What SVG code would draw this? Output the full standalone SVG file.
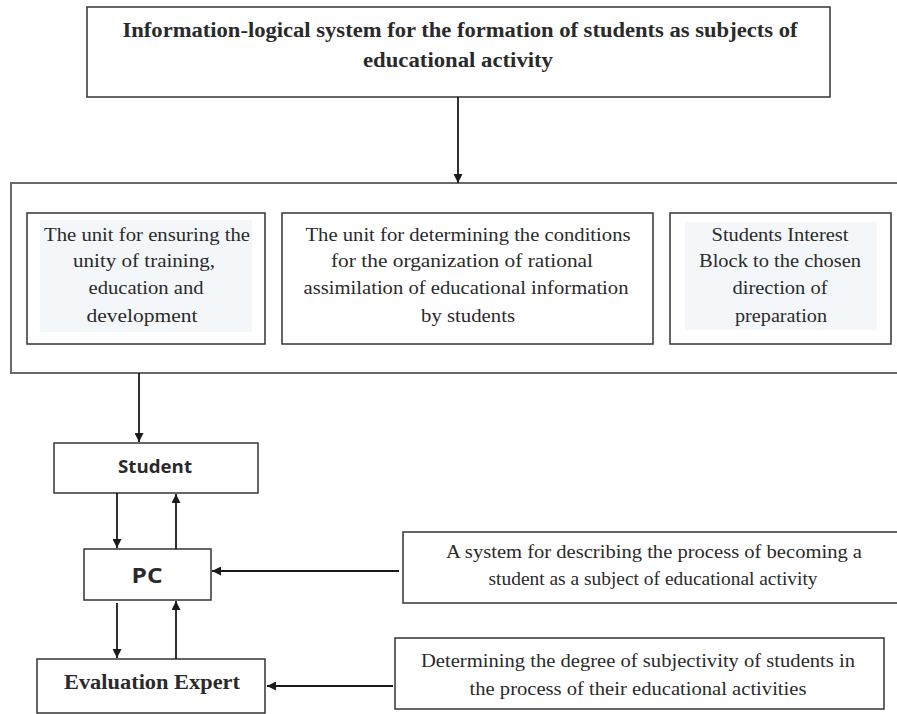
<svg xmlns="http://www.w3.org/2000/svg" width="897" height="714" viewBox="0 0 897 714">
  <defs>
    <marker id="arrow" viewBox="0 0 10 10" refX="10" refY="5" markerWidth="9" markerHeight="9" markerUnits="userSpaceOnUse" orient="auto">
      <path d="M0,0 L10,5 L0,10 Z" fill="#1a1a1a"/>
    </marker>
    <style>
      .box { fill: #ffffff; stroke: #333333; stroke-width: 1.5; }
      .frame { fill: #ffffff; stroke: #6a6a6a; stroke-width: 2; }
      .tint { fill: #f4f7fa; stroke: none; }
      text { lengthAdjust: spacingAndGlyphs; }
      .serif { font-family: "Liberation Serif", "Times New Roman", serif; fill: #2a2a2a; text-anchor: middle; }
      .sans { font-family: "Open Sans", "Liberation Sans", sans-serif; font-weight: bold; fill: #2a2a2a; text-anchor: middle; }
      .title { font-size: 20px; font-weight: bold; }
      .unit { font-size: 18.5px; }
      .note { font-size: 19.5px; }
      .link { stroke: #1a1a1a; stroke-width: 1.8; fill: none; marker-end: url(#arrow); }
    </style>
  </defs>

  <!-- top-level system -->
  <g id="system">
    <rect class="box" x="87" y="7" width="743" height="90"/>
    <text class="serif title" x="460" y="37" textLength="675" lengthAdjust="spacingAndGlyphs">Information-logical system for the formation of students as subjects of</text>
    <text class="serif title" x="458" y="67" textLength="190" lengthAdjust="spacingAndGlyphs">educational activity</text>
  </g>

  <!-- container with the three units -->
  <g id="units">
    <rect class="frame" x="11" y="183" width="892" height="190"/>
  </g>

  <g id="unit-unity">
    <rect class="box" x="27" y="213" width="238" height="131"/>
    <rect class="tint" x="40" y="220" width="212" height="112"/>
    <text class="serif unit" x="147" y="241" textLength="206" lengthAdjust="spacingAndGlyphs">The unit for ensuring the</text>
    <text class="serif unit" x="144" y="267" textLength="142" lengthAdjust="spacingAndGlyphs">unity of training,</text>
    <text class="serif unit" x="146" y="294" textLength="115" lengthAdjust="spacingAndGlyphs">education and</text>
    <text class="serif unit" x="142" y="322" textLength="111" lengthAdjust="spacingAndGlyphs">development</text>
  </g>

  <g id="unit-conditions">
    <rect class="box" x="282" y="213" width="371" height="131"/>
    <text class="serif unit" x="468" y="241" textLength="325" lengthAdjust="spacingAndGlyphs">The unit for determining the conditions</text>
    <text class="serif unit" x="462" y="267" textLength="262" lengthAdjust="spacingAndGlyphs">for the organization of rational</text>
    <text class="serif unit" x="466" y="294" textLength="325" lengthAdjust="spacingAndGlyphs">assimilation of educational information</text>
    <text class="serif unit" x="468" y="322" textLength="94" lengthAdjust="spacingAndGlyphs">by students</text>
  </g>

  <g id="unit-interest">
    <rect class="box" x="670" y="213" width="221" height="131"/>
    <rect class="tint" x="685" y="222" width="192" height="108"/>
    <text class="serif unit" x="780" y="241" textLength="137" lengthAdjust="spacingAndGlyphs">Students Interest</text>
    <text class="serif unit" x="780" y="267" textLength="162" lengthAdjust="spacingAndGlyphs">Block to the chosen</text>
    <text class="serif unit" x="780" y="294" textLength="95" lengthAdjust="spacingAndGlyphs">direction of</text>
    <text class="serif unit" x="781" y="322" textLength="92" lengthAdjust="spacingAndGlyphs">preparation</text>
  </g>

  <!-- lower chain -->
  <g id="student">
    <rect class="box" x="54" y="443" width="204" height="50"/>
    <text class="sans" x="155" y="473" font-size="18" textLength="74" lengthAdjust="spacingAndGlyphs">Student</text>
  </g>

  <g id="pc">
    <rect class="box" x="84" y="549" width="127" height="51"/>
    <text class="sans" x="147" y="583" font-size="21" textLength="31" lengthAdjust="spacingAndGlyphs">PC</text>
  </g>

  <g id="expert">
    <rect class="box" x="37" y="659" width="228" height="54"/>
    <text class="serif title" x="152" y="689" textLength="176" lengthAdjust="spacingAndGlyphs">Evaluation Expert</text>
  </g>

  <g id="describing">
    <rect class="box" x="403" y="532" width="500" height="71"/>
    <text class="serif note" x="654" y="558" textLength="416" lengthAdjust="spacingAndGlyphs">A system for describing the process of becoming a</text>
    <text class="serif note" x="653" y="585" textLength="329" lengthAdjust="spacingAndGlyphs">student as a subject of educational activity</text>
  </g>

  <g id="degree">
    <rect class="box" x="395" y="638" width="489" height="71"/>
    <text class="serif note" x="638" y="667" textLength="434" lengthAdjust="spacingAndGlyphs">Determining the degree of subjectivity of students in</text>
    <text class="serif note" x="638" y="695" textLength="337" lengthAdjust="spacingAndGlyphs">the process of their educational activities</text>
  </g>

  <!-- connectors -->
  <g id="connectors">
    <line class="link" x1="458" y1="97" x2="458" y2="183"/>
    <line class="link" x1="139" y1="373" x2="139" y2="442"/>
    <line class="link" x1="117" y1="493" x2="117" y2="548"/>
    <line class="link" x1="176" y1="549" x2="176" y2="494"/>
    <line class="link" x1="117" y1="603" x2="117" y2="658"/>
    <line class="link" x1="176" y1="659" x2="176" y2="601"/>
    <line class="link" x1="399" y1="571" x2="212" y2="571"/>
    <line class="link" x1="393" y1="686" x2="267" y2="686"/>
  </g>
</svg>
